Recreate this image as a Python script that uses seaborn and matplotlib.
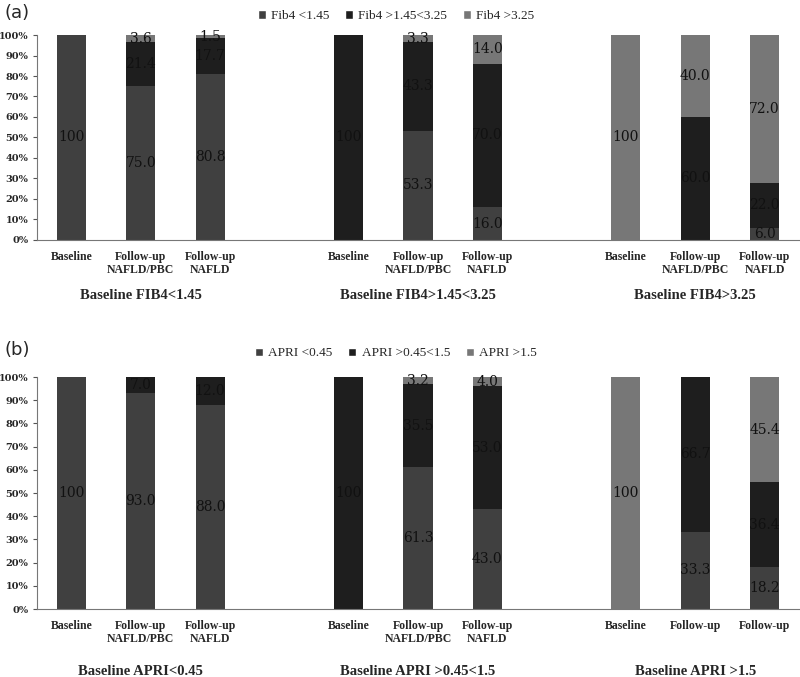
import numpy as np
import pandas as pd
import seaborn as sns
import matplotlib.pyplot as plt
from matplotlib.patches import Patch
from matplotlib.transforms import blended_transform_factory

sns.set_style("white")

# categories per baseline group (blank slot between groups)
cats_a = ["Baseline", "Follow-up\nNAFLD/PBC", "Follow-up\nNAFLD"]
cats_b_last = ["Baseline", "Follow-up", "Follow-up"]

# panel (a) FIB4
fib_low = [100, 75.0, 80.8, 0, 53.3, 16.0, 0, 0, 6.0]
fib_mid = [0, 21.4, 17.7, 100, 43.3, 70.0, 0, 60.0, 22.0]
fib_high = [0, 3.6, 1.5, 0, 3.3, 14.0, 100, 40.0, 72.0]
fib_legend = ["Fib4 <1.45", "Fib4 >1.45<3.25", "Fib4 >3.25"]
fib_groups = ["Baseline FIB4<1.45", "Baseline FIB4>1.45<3.25", "Baseline FIB4>3.25"]

# panel (b) APRI
apri_low = [100, 93.0, 88.0, 0, 61.3, 43.0, 0, 33.3, 18.2]
apri_mid = [0, 7.0, 12.0, 100, 35.5, 53.0, 0, 66.7, 36.4]
apri_high = [0, 0, 0, 0, 3.2, 4.0, 100, 0, 45.4]
apri_legend = ["APRI <0.45", "APRI >0.45<1.5", "APRI >1.5"]
apri_groups = ["Baseline APRI<0.45", "Baseline APRI >0.45<1.5", "Baseline APRI >1.5"]

colors = ["#404040", "#1e1e1e", "#777777"]


def build(low, mid, high):
    # insert empty slots between the three groups
    keys, rows = [], []
    for i in range(9):
        k = f"c{i}"
        keys.append(k)
        rows.append((k, low[i], mid[i], high[i]))
        if i in (2, 5):
            keys.append(f"gap{i}")
            rows.append((f"gap{i}", 0, 0, 0))
    df = pd.DataFrame(rows, columns=["key", "low", "mid", "high"])
    df["c1"] = df["low"]
    df["c2"] = df["low"] + df["mid"]
    df["c3"] = df["c2"] + df["high"]
    return df, keys


def fmt(v):
    return "100" if v == 100 else f"{v:.1f}"


def draw(ax, low, mid, high, ticklabels, groups):
    df, keys = build(low, mid, high)
    for col, c in zip(["c3", "c2", "c1"], colors[::-1]):
        sns.barplot(data=df, x="key", y=col, order=keys, color=c, width=0.42,
                    errorbar=None, saturation=1, linewidth=0, ax=ax)
    # segment labels
    for i, r in df.iterrows():
        base = 0
        for v in (r["low"], r["mid"], r["high"]):
            if v > 0:
                ax.text(i, base + v / 2, fmt(v), ha="center", va="center",
                        fontsize=10, family="DejaVu Serif", color="#111111")
            base += v
    ax.set_xlim(-0.5, 10.5)
    ax.set_ylim(0, 100)
    ax.set_yticks(np.arange(0, 101, 10))
    ax.set_yticklabels([f"{t}%" for t in range(0, 101, 10)],
                       fontsize=7, fontweight="bold", family="DejaVu Serif")
    pos = [0, 1, 2, 4, 5, 6, 8, 9, 10]
    ax.set_xticks(pos)
    ax.set_xticklabels(ticklabels, fontsize=8.5, fontweight="bold",
                       family="Liberation Serif", linespacing=1.15)
    ax.set_xticks(np.arange(-0.5, 10.6, 1), minor=True)
    ax.tick_params(axis="x", which="major", length=0, pad=8)
    ax.tick_params(axis="x", which="minor", length=4, color="#555555", direction="out")
    ax.tick_params(axis="y", length=3, color="#555555", direction="out", left=True, pad=3)
    ax.set_xlabel("")
    ax.set_ylabel("")
    sns.despine(ax=ax)
    for s in ("left", "bottom"):
        ax.spines[s].set_color("#777777")
    tr = blended_transform_factory(ax.transData, ax.transAxes)
    for g, x in zip(groups, [1, 5, 9]):
        ax.text(x, -0.27, g, transform=tr, ha="center", va="center",
                fontsize=10.5, fontweight="bold", family="Liberation Serif")


fig = plt.figure(figsize=(8, 6.77), dpi=100)
ax_a = fig.add_axes([0.046, 0.6455, 0.953, 0.3028])
ax_b = fig.add_axes([0.046, 0.1004, 0.953, 0.3427])

draw(ax_a, fib_low, fib_mid, fib_high, cats_a * 3, fib_groups)
draw(ax_b, apri_low, apri_mid, apri_high, cats_a * 2 + cats_b_last, apri_groups)

for lab, ly, names in (("(a)", 0.981, fib_legend), ("(b)", 0.483, apri_legend)):
    fig.text(0.006, ly, lab, fontsize=13, va="center", ha="left")
    handles = [Patch(facecolor=c, label=n) for c, n in zip(colors, names)]
    fig.legend(handles=handles, loc="center", bbox_to_anchor=(0.495, ly - 0.005),
               ncol=3, frameon=False, handlelength=0.6, handleheight=0.6,
               handletextpad=0.4, columnspacing=1.2,
               prop={"family": "Liberation Serif", "size": 9.5})

fig.savefig("out.png", dpi=100)
